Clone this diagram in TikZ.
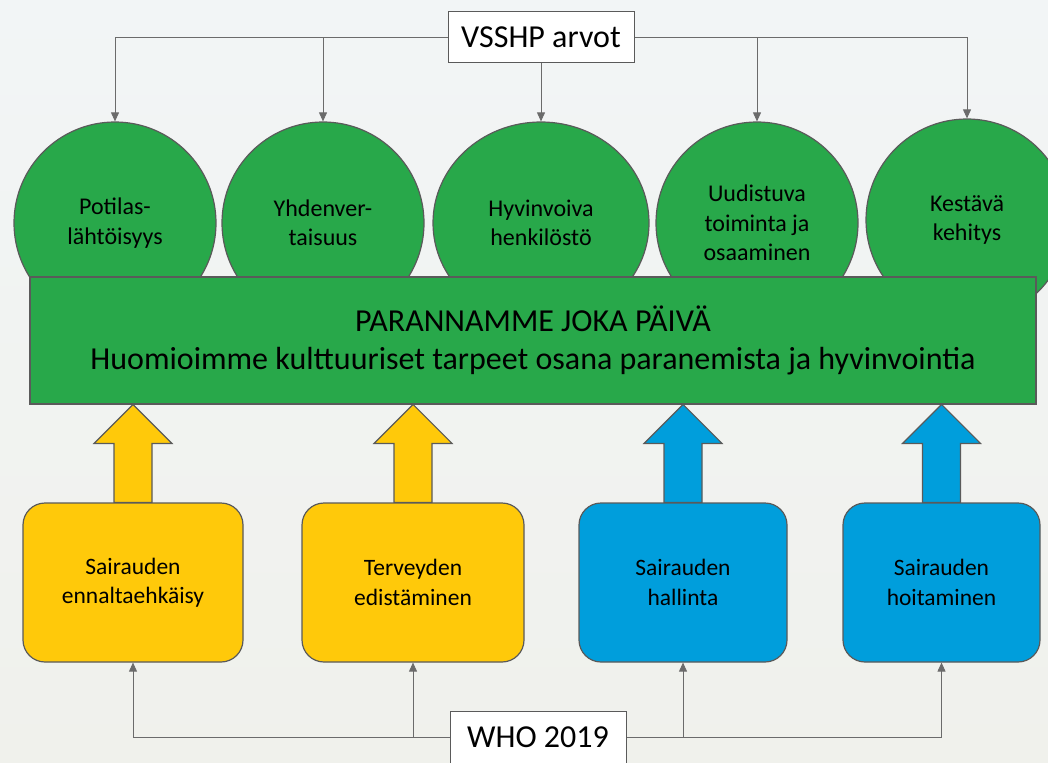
\documentclass[tikz,border=0pt]{standalone}
\usepackage{fontspec}
\setmainfont{Carlito}
\usetikzlibrary{arrows.meta,calc,shapes.geometric}
\definecolor{grn}{HTML}{28A84A}
\definecolor{yel}{HTML}{FFC90A}
\definecolor{blu}{HTML}{009EDC}
\definecolor{edgec}{HTML}{5A5A5A}
\definecolor{connc}{HTML}{6B6B6B}
\pgfdeclarelayer{bg}
\pgfsetlayers{bg,main}
\tikzset{
  valcircle/.style={ellipse, draw=edgec, line width=1.2pt, fill=grn, minimum width=202pt, minimum height=202pt, align=center, inner sep=0pt, font=\fontsize{24}{29.5}\selectfont},
  mainbox/.style={rectangle, draw=edgec, line width=1.4pt, fill=grn, minimum width=1006pt, minimum height=127pt, align=center, font=\fontsize{32}{38}\selectfont},
  actbox/.style={rectangle, rounded corners=22pt, draw=edgec, line width=1.2pt, minimum height=159pt, align=center, font=\fontsize{23.5}{29.5}\selectfont},
  labelbox/.style={rectangle, draw=edgec, line width=1pt, fill=white, minimum height=51pt, font=\fontsize{32}{36}\selectfont},
  conn/.style={draw=connc, line width=0.9pt, -{Triangle[width=8pt,length=9pt]}},
  blk/.style={draw=edgec, line width=1.2pt, line join=miter}
}
\newcommand{\blockarrow}[2]{%
  \draw[blk, fill=#2] ($(#1.north)+(-19,0)$) -- ++(0,-59) -- ++(-20,0) -- ++(39,-39) -- ++(39,39) -- ++(-20,0) -- ++(0,59) -- cycle;}
\begin{document}
\begin{tikzpicture}[x=1pt,y=-1pt]
\useasboundingbox (0,0) rectangle (1048,762);
\begin{pgfonlayer}{bg}
\shade[top color={rgb,255:red,242;green,245;blue,246}, middle color={rgb,255:red,226;green,235;blue,239}, bottom color={rgb,255:red,240;green,241;blue,236}] (0,0) rectangle (1048,762);
\end{pgfonlayer}
% value circles
\node[valcircle] (c1) at (115,223) {Potilas-\\lähtöisyys};
\node[valcircle] (c2) at (323,223) {Yhdenver-\\taisuus};
\node[valcircle, minimum width=216pt] (c3) at (541,223) {Hyvinvoiva\\henkilöstö};
\node[valcircle] (c4) at (757,223) {Uudistuva\\toiminta ja\\osaaminen};
\node[valcircle] (c5) at (967,220) {Kestävä\\kehitys};
% main bar
\node[mainbox] (m) at (533,340.5) {PARANNAMME JOKA PÄIVÄ\\Huomioimme kulttuuriset tarpeet osana paranemista ja hyvinvointia};
% activity boxes
\node[actbox, fill=yel, minimum width=220pt] (b1) at (133,582.5) {Sairauden\\ennaltaehkäisy};
\node[actbox, fill=yel, minimum width=222pt] (b2) at (413,582.5) {Terveyden\\edistäminen};
\node[actbox, fill=blu, minimum width=208pt] (b3) at (683,582.5) {Sairauden\\hallinta};
\node[actbox, fill=blu, minimum width=197pt] (b4) at (941.5,582.5) {Sairauden\\hoitaminen};
% block arrows
\begin{pgfonlayer}{bg}
\blockarrow{b1}{yel}
\blockarrow{b2}{yel}
\blockarrow{b3}{blu}
\blockarrow{b4}{blu}
\end{pgfonlayer}
% label boxes
\node[labelbox, minimum width=186pt] (v) at (541,37.5) {VSSHP arvot};
\node[labelbox, minimum width=176pt, minimum height=52pt] (w) at (538,737) {WHO 2019};
% connectors
\draw[conn] (v.west) -| (c1.north);
\draw[conn] (v.west) -| (c2.north);
\draw[conn] (v.south) -- (c3.north);
\draw[conn] (v.east) -| (c4.north);
\draw[conn] (v.east) -| (c5.north);
\draw[conn] (w.west) -| (b1.south);
\draw[conn] (w.west) -| (b2.south);
\draw[conn] (w.east) -| (b3.south);
\draw[conn] (w.east) -| (b4.south);
\end{tikzpicture}
\end{document}
